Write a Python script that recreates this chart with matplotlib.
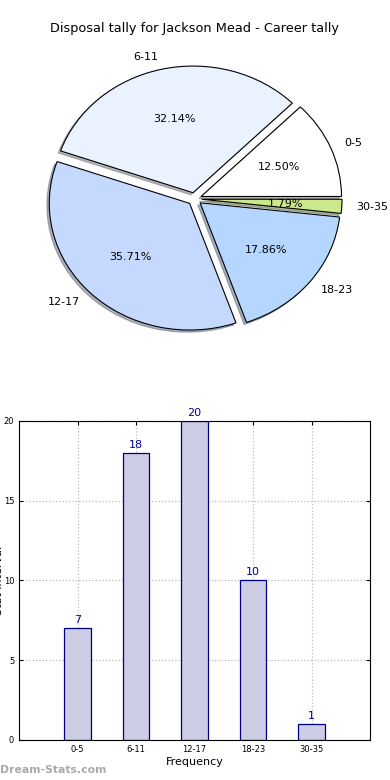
import matplotlib
matplotlib.use('Agg')
import matplotlib.pyplot as plt
import numpy as np

# disposal ranges and how many games fell in each
ranges = ['0-5', '6-11', '12-17', '18-23', '30-35']
games = [7, 18, 20, 10, 1]
pie_colors = ['#ffffff', '#eaf1ff', '#c5d9ff', '#b4d6ff', '#cbe98b']
title = 'Disposal tally for Jackson Mead - Career tally'


def draw_pie(fig):
    ax = fig.add_axes([0.049, 0.542, 0.9, 0.406])
    ax.pie(games, labels=ranges, colors=pie_colors,
           explode=[0.05] * len(games),
           autopct='%1.2f%%',
           shadow={'ox': -0.012, 'oy': -0.012, 'shade': 0.55},
           startangle=0, radius=1,
           wedgeprops={'edgecolor': 'black', 'linewidth': 0.8},
           textprops={'fontsize': 8})
    ax.set_aspect('auto')
    ax.set_xlim(-1.25, 1.25)
    ax.set_ylim(-1.25, 1.25)
    ax.set_title(title, fontsize=9.3, pad=6)


def draw_bars(fig):
    ax = fig.add_axes([0.049, 0.0513, 0.9, 0.409])
    x = np.arange(len(ranges))
    ax.bar(x, games, width=0.45, color='#ccccе4'.replace('е', 'e'),
           edgecolor='#000080', linewidth=0.9, zorder=2)
    for xi, v in zip(x, games):
        ax.text(xi, v + 0.2, str(v), ha='center', va='bottom',
                color='#000090', fontsize=8)
    ax.set_xlim(-1, 5)
    ax.set_ylim(0, 20)
    ax.set_xticks(x)
    ax.set_xticklabels(ranges)
    ax.set_yticks([0, 5, 10, 15, 20])
    ax.tick_params(direction='in', labelsize=6, top=True, right=True, length=3)
    ax.grid(True, linestyle=':', color='#bbbbbb', linewidth=0.9, zorder=0)
    ax.set_axisbelow(True)
    ax.set_xlabel('Frequency', fontsize=8, labelpad=2)
    fig.text(4 / 390, 0.256, 'Stat Interval', rotation=90, ha='right',
             va='center', fontsize=8)


fig = plt.figure(figsize=(3.9, 7.8), dpi=100)
draw_pie(fig)
draw_bars(fig)
fig.text(0.0, 0.0125, 'Dream-Stats.com', color='#aaaaaa', fontsize=7.8,
         fontweight='bold', ha='left', va='center')
fig.savefig('out.png', dpi=100)
